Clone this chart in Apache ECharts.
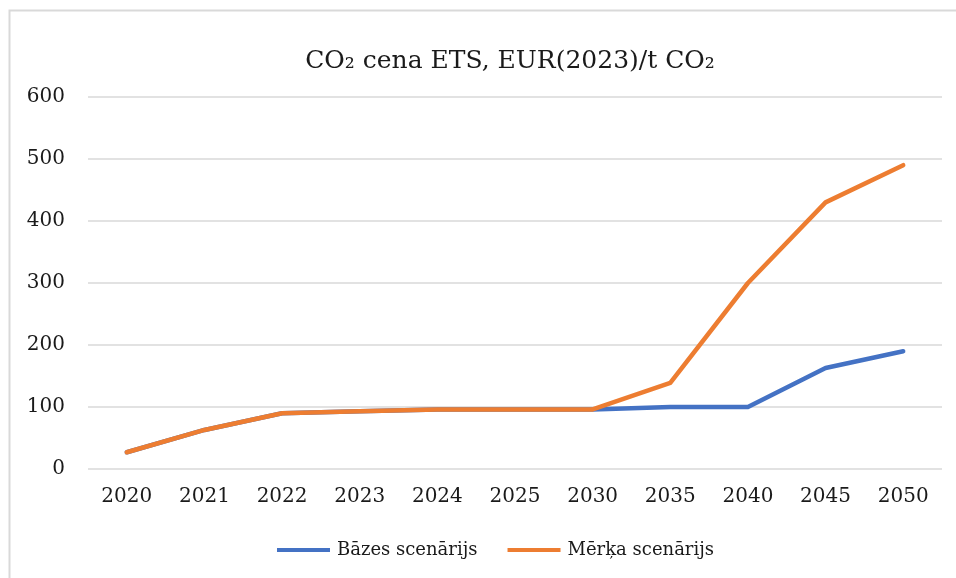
<!DOCTYPE html>
<html>
<head>
<meta charset="utf-8">
<script src="https://cdn.jsdelivr.net/npm/echarts@6/dist/echarts.min.js"></script>
<style>
  html, body { margin: 0; padding: 0; background: #fff; }
  #chart { width: 956px; height: 578px; }
</style>
</head>
<body>
<div id="chart"></div>
<script>
// data
var years = ['2020', '2021', '2022', '2023', '2024', '2025', '2030', '2035', '2040', '2045', '2050'];
var bazes = [27, 63, 90, 93, 96, 96, 96, 100, 100, 163, 190];
var merka = [27, 63, 90, 93, 96, 96, 96, 139, 300, 430, 490];
var yTicks = [0, 100, 200, 300, 400, 500, 600];

var font = '"DejaVu Serif", "Liberation Serif", serif';

var dom = document.getElementById('chart');
var myChart = echarts.init(dom, null, { renderer: 'canvas' });

var option = {
    animation: false,
    backgroundColor: '#fff',
    title: {
        text: 'CO₂ cena ETS, EUR(2023)/t CO₂',
        left: 505,
        textAlign: 'center',
        top: 44,
        textStyle: { fontFamily: font, fontSize: 25, fontWeight: 'normal', color: '#1a1a1a' }
    },
    graphic: [{
        type: 'rect',
        shape: { x: 9.5, y: 10.5, width: 960, height: 600 },
        style: { fill: 'none', stroke: '#d9d9d9', lineWidth: 2 },
        silent: true
    }],
    legend: {
        bottom: 14,
        left: 272,
        itemWidth: 53,
        itemHeight: 4,
        itemGap: 30,
        icon: 'rect',
        textStyle: { fontFamily: font, fontSize: 18, color: '#1a1a1a', padding: [0, 0, 0, 2] },
        data: ['Bāzes scenārijs', 'Mērķa scenārijs']
    },
    grid: { left: 88, right: 14, top: 97, bottom: 109, containLabel: false },
    xAxis: {
        type: 'category',
        data: years,
        boundaryGap: true,
        axisLine: { show: false },
        axisTick: { show: false },
        axisLabel: { fontFamily: font, fontSize: 20, color: '#1a1a1a', margin: 18 }
    },
    yAxis: {
        type: 'value',
        min: yTicks[0],
        max: yTicks[yTicks.length - 1],
        interval: 100,
        axisLine: { show: false },
        axisTick: { show: false },
        splitLine: { lineStyle: { color: '#d9d9d9', width: 1.5 } },
        axisLabel: { fontFamily: font, fontSize: 20, color: '#1a1a1a', margin: 23 }
    },
    series: [
        {
            name: 'Bāzes scenārijs',
            type: 'line',
            data: bazes,
            symbol: 'none',
            lineStyle: { width: 4.5, color: '#4472c4', cap: 'round', join: 'round' },
            itemStyle: { color: '#4472c4' }
        },
        {
            name: 'Mērķa scenārijs',
            type: 'line',
            data: merka,
            symbol: 'none',
            lineStyle: { width: 4.5, color: '#ed7d31', cap: 'round', join: 'round' },
            itemStyle: { color: '#ed7d31' }
        }
    ]
};

myChart.setOption(option);
window.addEventListener('resize', myChart.resize);
</script>
</body>
</html>
